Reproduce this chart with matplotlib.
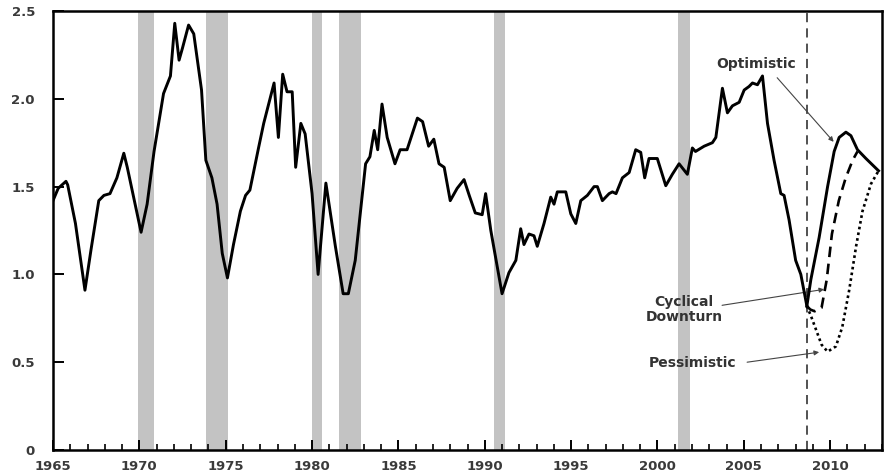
import matplotlib
matplotlib.use("Agg")
import matplotlib.pyplot as plt
from matplotlib.ticker import MultipleLocator

# ---------------- data ----------------
main_years = [1965.0, 1965.3, 1965.75, 1965.85, 1966.3, 1966.85, 1967.2, 1967.65, 1967.95, 1968.3,
              1968.7, 1969.1, 1969.3, 1969.8, 1970.1, 1970.45, 1970.85, 1971.4, 1971.8, 1972.05,
              1972.3, 1972.5, 1972.85, 1973.15, 1973.6, 1973.85, 1974.2, 1974.5, 1974.8, 1975.1,
              1975.45, 1975.85, 1976.15, 1976.4, 1976.9, 1977.2, 1977.8, 1978.05, 1978.3, 1978.55,
              1978.85, 1979.05, 1979.35, 1979.6, 1980.0, 1980.35, 1980.8, 1981.35, 1981.8, 1982.1,
              1982.5, 1983.1, 1983.35, 1983.6, 1983.8, 1984.05, 1984.35, 1984.8, 1985.1, 1985.5,
              1986.1, 1986.4, 1986.75, 1987.05, 1987.35, 1987.65, 1988.0, 1988.4, 1988.8, 1989.1,
              1989.45, 1989.85, 1990.05, 1990.35, 1991.0, 1991.4, 1991.8, 1992.08, 1992.27, 1992.56,
              1992.85, 1993.04, 1993.43, 1993.82, 1994.01, 1994.2, 1994.69, 1994.98, 1995.27, 1995.56,
              1995.94, 1996.33, 1996.52, 1996.81, 1997.2, 1997.39, 1997.6, 1997.97, 1998.36, 1998.74,
              1999.03, 1999.26, 1999.51, 1999.99, 2000.48, 2000.86, 2001.25, 2001.73, 2002.02, 2002.2,
              2002.7, 2003.18, 2003.38, 2003.76, 2004.05, 2004.34, 2004.73, 2005.02, 2005.3, 2005.5,
              2005.79, 2006.08, 2006.37, 2006.75, 2007.14, 2007.33, 2007.62, 2008.0, 2008.3, 2008.65]
main_vals = [1.42, 1.49, 1.53, 1.51, 1.29, 0.91, 1.14, 1.42, 1.45, 1.46,
             1.55, 1.69, 1.61, 1.38, 1.24, 1.40, 1.70, 2.03, 2.13, 2.43,
             2.22, 2.29, 2.42, 2.37, 2.05, 1.65, 1.55, 1.40, 1.12, 0.98,
             1.17, 1.36, 1.45, 1.48, 1.72, 1.86, 2.09, 1.78, 2.14, 2.04,
             2.04, 1.61, 1.86, 1.80, 1.46, 1.00, 1.52, 1.16, 0.89, 0.89,
             1.08, 1.63, 1.67, 1.82, 1.71, 1.97, 1.78, 1.63, 1.71, 1.71,
             1.89, 1.87, 1.73, 1.77, 1.63, 1.61, 1.42, 1.49, 1.54, 1.45,
             1.35, 1.34, 1.46, 1.25, 0.89, 1.01, 1.08, 1.26, 1.17, 1.23,
             1.22, 1.16, 1.29, 1.44, 1.40, 1.47, 1.47, 1.345, 1.29, 1.42,
             1.45, 1.50, 1.50, 1.42, 1.46, 1.47, 1.46, 1.55, 1.58, 1.71,
             1.695, 1.55, 1.66, 1.66, 1.505, 1.57, 1.63, 1.57, 1.72, 1.70,
             1.73, 1.75, 1.78, 2.06, 1.92, 1.96, 1.98, 2.05, 2.07, 2.09,
             2.08, 2.13, 1.86, 1.65, 1.46, 1.45, 1.31, 1.08, 1.00, 0.82]

opt_years = [2008.65, 2008.88, 2009.36, 2009.85, 2010.23, 2010.52, 2010.91, 2011.2, 2011.58, 2012.07, 2012.8]
opt_vals = [0.82, 0.97, 1.21, 1.50, 1.70, 1.78, 1.81, 1.79, 1.71, 1.66, 1.59]

cyc_years = [2008.65, 2008.85, 2009.1, 2009.5, 2009.8, 2010.1, 2010.5, 2010.9, 2011.3, 2011.58]
cyc_vals = [0.82, 0.80, 0.79, 0.81, 0.97, 1.23, 1.42, 1.55, 1.65, 1.70]

pes_years = [2008.65, 2008.9, 2009.2, 2009.5, 2009.85, 2010.33, 2010.7, 2011.1, 2011.5, 2011.87, 2012.36, 2012.8]
pes_vals = [0.82, 0.76, 0.68, 0.60, 0.56, 0.59, 0.70, 0.91, 1.16, 1.36, 1.515, 1.59]

recessions = [(1969.9, 1970.85), (1973.85, 1975.15), (1980.0, 1980.55), (1981.55, 1982.85),
              (1990.55, 1991.2), (2001.2, 2001.9)]
forecast_start = 2008.67

x_ticks = [1965, 1970, 1975, 1980, 1985, 1990, 1995, 2000, 2005, 2010]
y_ticks = [0, 0.5, 1.0, 1.5, 2.0, 2.5]
y_labels = ["0", "0.5", "1.0", "1.5", "2.0", "2.5"]

# ---------------- figure ----------------
fig = plt.figure(figsize=(8.9, 4.75), dpi=100)
ax = fig.add_axes([53 / 890, 25 / 475, (882 - 53) / 890, (450 - 11) / 475])

for a, b in recessions:
    ax.axvspan(a, b, color="#c3c3c3", lw=0, zorder=1)

ax.axvline(forecast_start, color="#222222", lw=1.1, ls=(0, (6, 4)), zorder=2)

ax.plot(main_years, main_vals, color="black", lw=2.1, zorder=4, solid_joinstyle="round")
ax.plot(opt_years, opt_vals, color="black", lw=2.1, zorder=4, solid_joinstyle="round")
ax.plot(cyc_years, cyc_vals, color="black", lw=1.9, ls=(0, (4, 2.5)), zorder=3)
ax.plot(pes_years, pes_vals, color="black", lw=1.9, ls=(0, (1, 1.2)), zorder=3)

txt_kw = dict(fontsize=10, fontweight="bold", color="#333333", zorder=5)
ax.text(2005.71, 2.20, "Optimistic", ha="center", va="center", **txt_kw)
ax.text(2001.54, 0.80, "Cyclical\nDownturn", ha="center", va="center", linespacing=1.1, **txt_kw)
ax.text(2002.06, 0.494, "Pessimistic", ha="center", va="center", **txt_kw)

arr = dict(arrowstyle="-|>", color="#444444", lw=0.8, mutation_scale=7, shrinkA=0, shrinkB=0)
ax.annotate("", xy=(2010.2, 1.755), xytext=(2006.93, 2.12), arrowprops=arr)
ax.annotate("", xy=(2009.65, 0.915), xytext=(2003.74, 0.824), arrowprops=arr)
ax.annotate("", xy=(2009.36, 0.557), xytext=(2005.19, 0.50), arrowprops=arr)

ax.set_xlim(1965, 2013)
ax.set_ylim(0, 2.5)
ax.set_xticks(x_ticks)
ax.set_xticklabels([str(y) for y in x_ticks])
ax.xaxis.set_minor_locator(MultipleLocator(1))
ax.set_yticks(y_ticks)
ax.set_yticklabels(y_labels)

ax.tick_params(axis="x", which="major", direction="in", length=7, width=1.4, pad=7,
               labelsize=9.5, labelcolor="#3a3a3a")
ax.tick_params(axis="x", which="minor", direction="in", length=4, width=1.2)
ax.tick_params(axis="y", which="major", direction="in", length=8, width=1.4, pad=13,
               labelsize=9.5, labelcolor="#3a3a3a")
for lab in ax.get_xticklabels() + ax.get_yticklabels():
    lab.set_fontweight("bold")

for s in ax.spines.values():
    s.set_linewidth(1.8)
    s.set_color("black")

fig.savefig("out.png", dpi=100)
